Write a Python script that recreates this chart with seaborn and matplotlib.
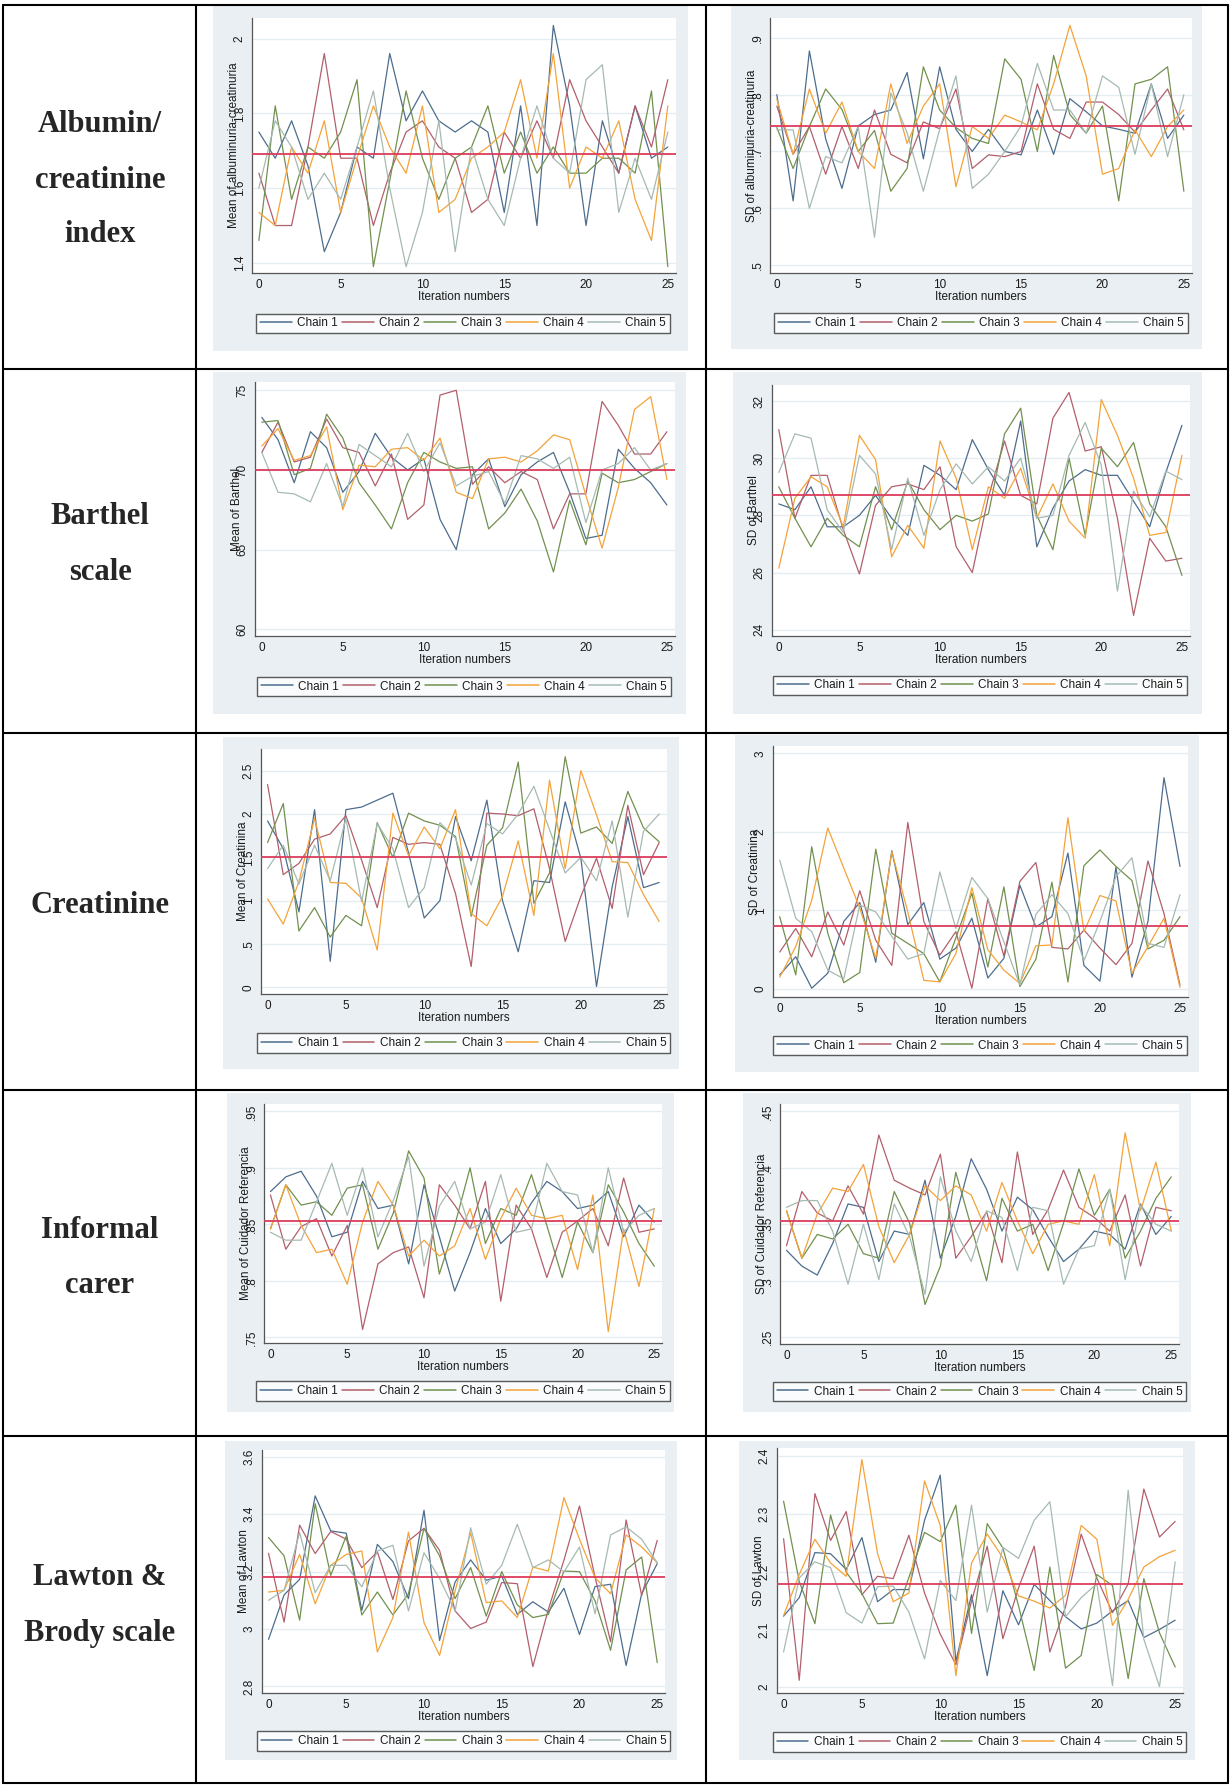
import matplotlib
matplotlib.use("Agg")
import matplotlib.pyplot as plt
from matplotlib.lines import Line2D
from matplotlib.patches import Rectangle
import seaborn as sns
import pandas as pd

sns.set_style("white")
plt.rcParams["font.family"] = ["Liberation Sans", "DejaVu Sans"]

iterations = list(range(26))
chains = ["Chain 1", "Chain 2", "Chain 3", "Chain 4", "Chain 5"]

# ---- values (one list per chain) ----
alb_mean = [
    [1.75, 1.68, 1.78, 1.66, 1.43, 1.535, 1.71, 1.68, 1.96, 1.78, 1.86, 1.78, 1.75, 1.78, 1.75, 1.535, 1.82, 1.5, 2.035, 1.82, 1.5, 1.78, 1.64, 1.82, 1.68, 1.71],
    [1.64, 1.5, 1.5, 1.71, 1.96, 1.68, 1.68, 1.5, 1.64, 1.75, 1.78, 1.71, 1.68, 1.535, 1.57, 1.75, 1.68, 1.78, 1.68, 1.89, 1.78, 1.71, 1.64, 1.82, 1.71, 1.89],
    [1.46, 1.82, 1.57, 1.71, 1.68, 1.75, 1.89, 1.39, 1.62, 1.86, 1.68, 1.57, 1.68, 1.71, 1.82, 1.64, 1.75, 1.64, 1.71, 1.64, 1.64, 1.68, 1.68, 1.64, 1.86, 1.39],
    [1.535, 1.5, 1.71, 1.64, 1.78, 1.535, 1.68, 1.82, 1.71, 1.64, 1.82, 1.535, 1.57, 1.68, 1.71, 1.75, 1.89, 1.68, 1.96, 1.6, 1.71, 1.68, 1.78, 1.57, 1.46, 1.82],
    [1.6, 1.78, 1.71, 1.57, 1.64, 1.57, 1.71, 1.86, 1.6, 1.39, 1.535, 1.78, 1.43, 1.71, 1.57, 1.5, 1.68, 1.82, 1.68, 1.64, 1.89, 1.93, 1.535, 1.68, 1.57, 1.75],
]
alb_sd = [
    [.80, .613, .877, .722, .635, .745, .765, .773, .839, .687, .849, .739, .70, .739, .70, .694, .773, .695, .793, .77, .745, .739, .732, .819, .723, .764],
    [.78, .695, .744, .66, .744, .67, .773, .695, .68, .752, .74, .81, .67, .694, .691, .70, .819, .739, .723, .787, .787, .765, .734, .773, .81, .738],
    [.742, .67, .744, .81, .774, .70, .737, .63, .67, .849, .773, .742, .723, .714, .863, .827, .70, .869, .765, .732, .78, .613, .819, .827, .849, .63],
    [.792, .695, .81, .732, .787, .70, .67, .819, .714, .78, .819, .638, .744, .723, .764, .752, .738, .819, .922, .833, .66, .67, .738, .691, .744, .773],
    [.738, .738, .60, .691, .68, .744, .549, .803, .733, .63, .739, .833, .635, .66, .70, .745, .855, .773, .773, .732, .833, .813, .695, .819, .691, .80],
]
barthel_mean = [
    [73.3, 71.9, 69.2, 72.4, 71.4, 68.6, 69.9, 72.3, 70.8, 70.0, 70.7, 66.9, 65.0, 69.7, 70.7, 67.7, 69.7, 70.5, 71.1, 68.6, 65.7, 65.9, 71.3, 70.1, 69.2, 67.8],
    [71.1, 73.0, 70.5, 70.8, 73.2, 71.4, 71.1, 69.0, 71.0, 66.9, 67.8, 74.7, 75.0, 69.1, 70.2, 69.2, 69.9, 69.4, 66.3, 68.5, 68.5, 74.3, 72.8, 71.0, 71.0, 72.4],
    [73.0, 73.1, 69.7, 70.1, 73.5, 72.0, 69.2, 67.8, 66.3, 69.2, 71.1, 70.5, 70.1, 70.2, 66.3, 67.3, 68.8, 66.8, 63.6, 68.1, 65.3, 69.8, 69.2, 69.4, 69.9, 70.4],
    [71.5, 72.6, 70.6, 70.9, 72.7, 67.5, 70.3, 70.2, 71.3, 71.4, 70.6, 72.0, 68.6, 68.2, 70.7, 70.8, 70.5, 71.2, 72.2, 71.9, 68.4, 65.1, 68.9, 73.8, 74.6, 69.4],
    [71.1, 68.6, 68.5, 68.0, 70.4, 67.7, 71.6, 70.9, 70.2, 72.3, 69.9, 71.7, 69.0, 69.6, 69.9, 67.9, 70.9, 70.7, 70.1, 70.8, 66.7, 70.0, 70.4, 71.4, 70.0, 70.4],
]
barthel_sd = [
    [28.4, 28.2, 29.0, 27.6, 27.6, 28.0, 28.7, 27.9, 27.3, 29.75, 29.4, 28.9, 30.65, 29.6, 28.7, 31.3, 26.9, 28.25, 29.2, 29.6, 29.4, 29.4, 28.5, 27.6, 29.5, 31.15],
    [31.0, 27.9, 29.4, 29.4, 27.5, 25.95, 28.35, 29.0, 29.1, 28.9, 29.7, 26.9, 26.0, 28.65, 30.6, 28.7, 28.4, 31.4, 32.3, 30.25, 30.4, 27.9, 24.5, 27.2, 26.4, 26.5],
    [29.0, 27.9, 26.9, 27.9, 27.3, 26.9, 29.0, 27.5, 29.2, 28.2, 27.5, 28.0, 27.8, 28.05, 30.85, 31.75, 28.0, 26.8, 30.0, 27.3, 30.35, 29.7, 30.55, 28.4, 27.6, 25.9],
    [26.15, 28.6, 29.35, 29.0, 27.6, 30.8, 29.95, 26.55, 27.65, 26.85, 30.6, 29.3, 26.8, 29.0, 28.6, 29.65, 27.9, 29.1, 27.8, 27.2, 32.05, 30.8, 29.3, 27.3, 27.4, 30.1],
    [29.5, 30.85, 30.7, 28.2, 27.4, 30.1, 29.45, 26.8, 29.3, 27.3, 28.9, 29.8, 29.1, 29.7, 29.2, 30.0, 27.9, 28.0, 30.1, 31.25, 29.75, 25.35, 28.85, 27.95, 29.55, 29.25],
]
creat_mean = [
    [1.92, 1.60, 0.87, 2.05, 0.30, 2.05, 2.08, 2.16, 2.24, 1.55, 0.80, 1.0, 1.97, 1.46, 2.16, 1.0, 0.41, 1.23, 1.21, 2.14, 1.49, 0.01, 1.16, 1.97, 1.15, 1.21],
    [2.34, 1.30, 1.43, 1.71, 1.77, 1.98, 1.47, 0.92, 1.73, 1.65, 1.67, 1.65, 1.08, 0.24, 2.01, 2.0, 1.98, 2.06, 1.37, 0.53, 1.05, 1.49, 0.91, 2.10, 1.30, 1.67],
    [1.67, 2.12, 0.65, 0.92, 0.58, 0.83, 0.71, 1.90, 1.50, 2.01, 1.92, 1.87, 1.74, 0.82, 1.64, 1.84, 2.60, 0.97, 1.32, 2.66, 1.78, 1.85, 1.66, 2.26, 1.84, 1.68],
    [1.02, 0.73, 1.22, 1.95, 1.21, 1.20, 1.03, 0.43, 2.01, 1.52, 1.85, 1.60, 2.05, 0.85, 0.71, 1.05, 1.69, 0.83, 2.39, 1.37, 2.5, 1.99, 1.45, 1.44, 1.07, 0.76],
    [1.37, 1.64, 1.19, 1.64, 1.23, 1.95, 0.99, 1.89, 1.60, 0.92, 1.15, 1.90, 1.72, 1.18, 1.89, 1.77, 2.0, 2.32, 1.82, 1.32, 1.50, 1.23, 1.92, 0.81, 1.80, 2.0],
]
creat_sd = [
    [0.18, 0.41, 0.01, 0.20, 0.86, 1.10, 0.34, 1.76, 0.82, 1.10, 0.38, 0.52, 0.90, 0.14, 0.39, 1.32, 0.79, 0.92, 1.73, 0.30, 0.10, 1.55, 0.15, 0.86, 2.69, 1.56],
    [0.47, 0.77, 0.41, 0.98, 0.56, 1.25, 0.62, 0.30, 2.12, 0.86, 0.43, 0.73, 0.01, 1.15, 0.42, 1.37, 1.61, 0.53, 0.51, 0.75, 0.52, 0.31, 0.58, 1.63, 0.96, 0.05],
    [0.92, 0.18, 1.81, 0.71, 0.08, 0.21, 1.78, 0.71, 0.58, 0.45, 0.09, 0.65, 1.22, 0.28, 1.30, 0.03, 0.38, 1.36, 0.09, 1.57, 1.77, 1.56, 1.38, 0.51, 0.62, 0.92],
    [0.15, 0.54, 1.13, 2.05, 1.54, 1.03, 0.39, 1.75, 0.98, 0.11, 0.09, 0.45, 1.29, 0.50, 0.24, 0.07, 0.55, 0.56, 2.18, 0.73, 1.19, 1.12, 0.20, 0.54, 0.90, 0.02],
    [1.64, 0.90, 0.73, 0.24, 0.13, 1.07, 0.98, 0.67, 0.38, 0.45, 1.49, 0.77, 1.42, 1.15, 0.60, 0.05, 0.95, 1.20, 0.96, 0.36, 0.86, 1.43, 1.67, 0.58, 0.53, 1.20],
]
carer_mean = [
    [.879, .892, .897, .875, .839, .843, .888, .864, .867, .815, .885, .839, .791, .825, .864, .833, .846, .869, .888, .879, .864, .867, .879, .839, .867, .852],
    [.876, .828, .848, .855, .822, .849, .757, .815, .825, .830, .785, .885, .867, .846, .888, .782, .867, .846, .803, .843, .853, .864, .831, .891, .843, .846],
    [.846, .885, .867, .870, .858, .882, .885, .828, .860, .915, .891, .806, .849, .900, .833, .864, .858, .894, .849, .803, .852, .825, .885, .861, .833, .813],
    [.846, .885, .849, .825, .828, .797, .852, .888, .867, .822, .836, .822, .831, .864, .819, .855, .882, .858, .855, .858, .810, .876, .755, .846, .795, .864],
    [.843, .836, .836, .870, .904, .858, .900, .839, .871, .910, .813, .866, .888, .846, .852, .894, .843, .846, .904, .879, .876, .825, .900, .843, .858, .864],
]
carer_sd = [
    [.327, .313, .305, .333, .368, .365, .317, .344, .341, .389, .320, .357, .408, .381, .344, .374, .363, .339, .317, .328, .344, .341, .328, .368, .341, .357],
    [.331, .379, .360, .353, .384, .359, .429, .389, .382, .376, .412, .320, .339, .361, .316, .414, .341, .363, .398, .365, .356, .344, .376, .313, .365, .362],
    [.362, .320, .341, .337, .350, .324, .320, .379, .351, .279, .313, .396, .348, .300, .373, .344, .350, .309, .351, .399, .358, .381, .320, .344, .373, .392],
    [.362, .320, .359, .382, .379, .403, .348, .316, .341, .384, .371, .384, .376, .344, .387, .353, .324, .350, .353, .350, .394, .331, .431, .362, .405, .344],
    [.365, .371, .371, .344, .297, .350, .301, .368, .339, .288, .392, .344, .317, .362, .356, .309, .365, .362, .297, .328, .331, .381, .301, .367, .350, .344],
]
lawton_mean = [
    [2.964, 3.119, 3.173, 3.464, 3.342, 3.334, 3.065, 3.295, 3.235, 3.106, 3.414, 2.960, 3.164, 3.241, 3.170, 3.185, 3.051, 3.095, 3.059, 3.142, 2.981, 3.148, 3.156, 2.873, 3.123, 3.228],
    [3.264, 3.024, 3.362, 3.263, 3.340, 3.313, 3.214, 3.269, 3.103, 3.307, 3.351, 3.274, 3.063, 3.002, 3.024, 3.162, 3.158, 2.869, 3.069, 3.240, 3.429, 3.181, 2.956, 3.380, 3.117, 3.309],
    [3.319, 3.255, 3.031, 3.437, 3.187, 3.324, 3.049, 3.129, 3.049, 3.123, 3.351, 3.255, 3.106, 3.214, 3.045, 3.2, 3.084, 3.040, 3.051, 3.202, 3.2, 3.098, 2.926, 3.206, 3.251, 2.883],
    [3.129, 3.135, 3.260, 3.088, 3.222, 3.260, 3.272, 2.920, 3.040, 3.338, 3.022, 2.908, 3.133, 3.336, 3.092, 3.098, 3.040, 3.216, 3.202, 3.458, 3.313, 3.179, 3.123, 3.328, 3.286, 3.231],
    [3.1, 3.135, 3.336, 3.127, 3.222, 3.222, 3.147, 3.272, 3.292, 3.063, 3.266, 3.176, 3.063, 3.353, 3.156, 3.222, 3.365, 3.214, 3.241, 3.199, 3.286, 3.053, 3.328, 3.356, 3.313, 3.231],
]
lawton_sd = [
    [2.123, 2.155, 2.233, 2.231, 2.204, 2.259, 2.148, 2.169, 2.169, 2.289, 2.367, 2.045, 2.160, 2.020, 2.167, 2.108, 2.178, 2.150, 2.122, 2.101, 2.111, 2.132, 2.150, 2.086, 2.100, 2.116],
    [2.257, 2.012, 2.335, 2.254, 2.304, 2.160, 2.192, 2.188, 2.263, 2.163, 2.092, 2.039, 2.149, 2.244, 2.084, 2.172, 2.244, 2.061, 2.139, 2.265, 2.189, 2.129, 2.179, 2.343, 2.260, 2.287],
    [2.322, 2.183, 2.110, 2.298, 2.199, 2.162, 2.110, 2.111, 2.190, 2.268, 2.252, 2.315, 2.093, 2.283, 2.241, 2.141, 2.029, 2.208, 2.033, 2.055, 2.195, 2.176, 2.015, 2.188, 2.094, 2.035],
    [2.124, 2.195, 2.256, 2.215, 2.192, 2.394, 2.231, 2.148, 2.163, 2.357, 2.280, 2.020, 2.215, 2.265, 2.224, 2.158, 2.149, 2.137, 2.159, 2.280, 2.256, 2.107, 2.152, 2.208, 2.226, 2.237],
    [2.061, 2.189, 2.217, 2.207, 2.129, 2.111, 2.174, 2.175, 2.130, 2.049, 2.185, 2.150, 2.315, 2.130, 2.242, 2.223, 2.289, 2.321, 2.122, 2.155, 2.179, 2.003, 2.341, 2.083, 2.001, 2.217],
]

# overall mean (red reference line) of each panel
ref_values = [1.69, 0.744, 70.0, 28.7, 1.5, 0.807, 0.853, 0.353, 3.18, 2.178]

y_titles = [
    "Mean of albuminuria-creatinuria", "SD of albuminuria-creatinuria",
    "Mean of Barthel", "SD of Barthel",
    "Mean of Creatinina", "SD of Creatinina",
    "Mean of Cuidador Referencia", "SD of Cuidador Referencia",
    "Mean of Lawton", "SD of Lawton",
]
y_ticks = [
    [1.4, 1.6, 1.8, 2.0], [0.5, 0.6, 0.7, 0.8, 0.9],
    [60, 65, 70, 75], [24, 26, 28, 30, 32],
    [0, 0.5, 1, 1.5, 2, 2.5], [0, 1, 2, 3],
    [0.75, 0.8, 0.85, 0.9, 0.95], [0.25, 0.3, 0.35, 0.4, 0.45],
    [2.8, 3.0, 3.2, 3.4, 3.6], [2.0, 2.1, 2.2, 2.3, 2.4],
]
y_ticklabels = [
    ["1.4", "1.6", "1.8", "2"], [".5", ".6", ".7", ".8", ".9"],
    ["60", "65", "70", "75"], ["24", "26", "28", "30", "32"],
    ["0", ".5", "1", "1.5", "2", "2.5"], ["0", "1", "2", "3"],
    [".75", ".8", ".85", ".9", ".95"], [".25", ".3", ".35", ".4", ".45"],
    ["2.8", "3", "3.2", "3.4", "3.6"], ["2", "2.1", "2.2", "2.3", "2.4"],
]
x_ticks = [0, 5, 10, 15, 20, 25]

row_labels = [
    ["Albumin/", "creatinine", "index"],
    ["Barthel", "scale"],
    ["Creatinine"],
    ["Informal", "carer"],
    ["Lawton &", "Brody scale"],
]

panel_data = [alb_mean, alb_sd, barthel_mean, barthel_sd, creat_mean,
              creat_sd, carer_mean, carer_sd, lawton_mean, lawton_sd]

# ---- styling / layout (pixels of the 1230x1785 page) ----
chain_colors = ["#4d6d8e", "#b25f6c", "#72904f", "#f3a33a", "#a6bab2"]
ref_color = "#dc3d5c"
bg_color = "#e9eff2"
W, H = 1230, 1785

bg_boxes = [(213, 6, 688, 351), (731, 6, 1202, 349),
            (213, 372, 686, 714), (733, 372, 1202, 714),
            (223, 737, 679, 1069), (735, 735, 1199, 1072),
            (227, 1093, 674, 1412), (743, 1093, 1191, 1412),
            (225, 1441, 677, 1760), (739, 1441, 1195, 1760)]
ax_boxes = [(252, 18, 676, 273), (770, 18, 1192, 273),
            (255, 382, 675, 636), (772, 385, 1190, 636),
            (261, 749, 667, 994), (773, 746, 1188, 997),
            (264, 1104, 662, 1343), (780, 1104, 1179, 1344),
            (262, 1450, 665, 1693), (777, 1448, 1183, 1693)]
leg_centers = [(463, 323.5), (981, 323), (464, 686.5), (980, 685.5),
               (463.5, 1043), (980, 1045.5), (463, 1391), (979.5, 1391.5),
               (463.5, 1741), (979.5, 1742)]
y_limits = [(1.373, 2.055), (0.486, 0.935), (59.58, 75.52), (23.78, 32.56),
            (-0.077, 2.75), (-0.102, 3.093), (0.745, 0.9565), (0.244, 0.4565),
            (2.777, 3.624), (1.99, 2.414)]

row_label_pos = [[125, 180, 235], [516, 572], [905], [1230, 1285], [1577, 1633]]
table_x = [3, 196, 706, 1228]
table_y = [5, 369, 733, 1090, 1436, 1783]


def fx(x):
    return x / W


def fy(y):
    return 1 - y / H


fig = plt.figure(figsize=(W / 100, H / 100), dpi=100)
fig.patch.set_facecolor("white")

for i in range(10):
    bx0, by0, bx1, by1 = bg_boxes[i]
    fig.add_artist(Rectangle((fx(bx0), fy(by1)), (bx1 - bx0) / W, (by1 - by0) / H,
                             transform=fig.transFigure, facecolor=bg_color,
                             edgecolor="none", zorder=-1))
    ax0, ay0, ax1, ay1 = ax_boxes[i]
    ax = fig.add_axes([fx(ax0), fy(ay1), (ax1 - ax0) / W, (ay1 - ay0) / H])
    ax.set_facecolor("white")

    frames = [pd.DataFrame({"iteration": iterations, "value": vals, "chain": name})
              for name, vals in zip(chains, panel_data[i])]
    df = pd.concat(frames, ignore_index=True)
    sns.lineplot(data=df, x="iteration", y="value", hue="chain", hue_order=chains,
                 palette=chain_colors, estimator=None, errorbar=None,
                 linewidth=0.9, legend=False, ax=ax)
    ax.axhline(ref_values[i], color=ref_color, lw=1.3, zorder=5)

    ax.set_xlim(-0.42, 25.5)
    ax.set_ylim(*y_limits[i])
    ax.set_xticks(x_ticks)
    ax.set_xticklabels([str(t) for t in x_ticks], fontsize=8.5)
    ax.set_yticks(y_ticks[i])
    ax.set_yticklabels(y_ticklabels[i], rotation=90, va="center", fontsize=8.5)
    ax.tick_params(axis="both", length=3, width=0.8, color="#555555", pad=1.5,
                   labelcolor="#1a1a1a")
    ax.yaxis.grid(True, color="#e6edf0", lw=1.0)
    ax.xaxis.grid(False)
    ax.set_axisbelow(True)
    for side in ["top", "right"]:
        ax.spines[side].set_visible(False)
    for side in ["left", "bottom"]:
        ax.spines[side].set_color("#555555")
        ax.spines[side].set_linewidth(0.9)

    ax.set_xlabel("Iteration numbers", fontsize=8.5, labelpad=0, color="#1a1a1a")
    ax.set_ylabel(y_titles[i], fontsize=8.5, color="#1a1a1a", va="center")
    ax.yaxis.set_label_coords(-18 / (ax1 - ax0), 0.5)

    handles = [Line2D([0], [0], color=c, lw=1.1) for c in chain_colors]
    cx, cy = leg_centers[i]
    leg = ax.legend(handles, chains, loc="center", bbox_to_anchor=(fx(cx), fy(cy)),
                    bbox_transform=fig.transFigure, ncol=5, frameon=True,
                    fancybox=False, fontsize=8.5, handlelength=2.7,
                    handletextpad=0.45, columnspacing=0.35, borderpad=0.3,
                    borderaxespad=0)
    leg.get_frame().set_edgecolor("#333333")
    leg.get_frame().set_linewidth(1.0)
    for t in leg.get_texts():
        t.set_color("#1a1a1a")

# row labels in the first column
for lines, ys in zip(row_labels, row_label_pos):
    for text, y in zip(lines, ys):
        fig.text(fx(100), fy(y), text, ha="center", va="center", fontsize=22,
                 fontweight="bold", family=["Liberation Serif", "DejaVu Serif"])

# table grid
for x in table_x:
    fig.add_artist(Line2D([fx(x), fx(x)], [fy(table_y[0]), fy(table_y[-1])],
                          transform=fig.transFigure, color="black", lw=1.5))
for y in table_y:
    fig.add_artist(Line2D([fx(table_x[0]), fx(table_x[-1])], [fy(y), fy(y)],
                          transform=fig.transFigure, color="black", lw=1.5))

fig.savefig("out.png", dpi=100, facecolor="white")
